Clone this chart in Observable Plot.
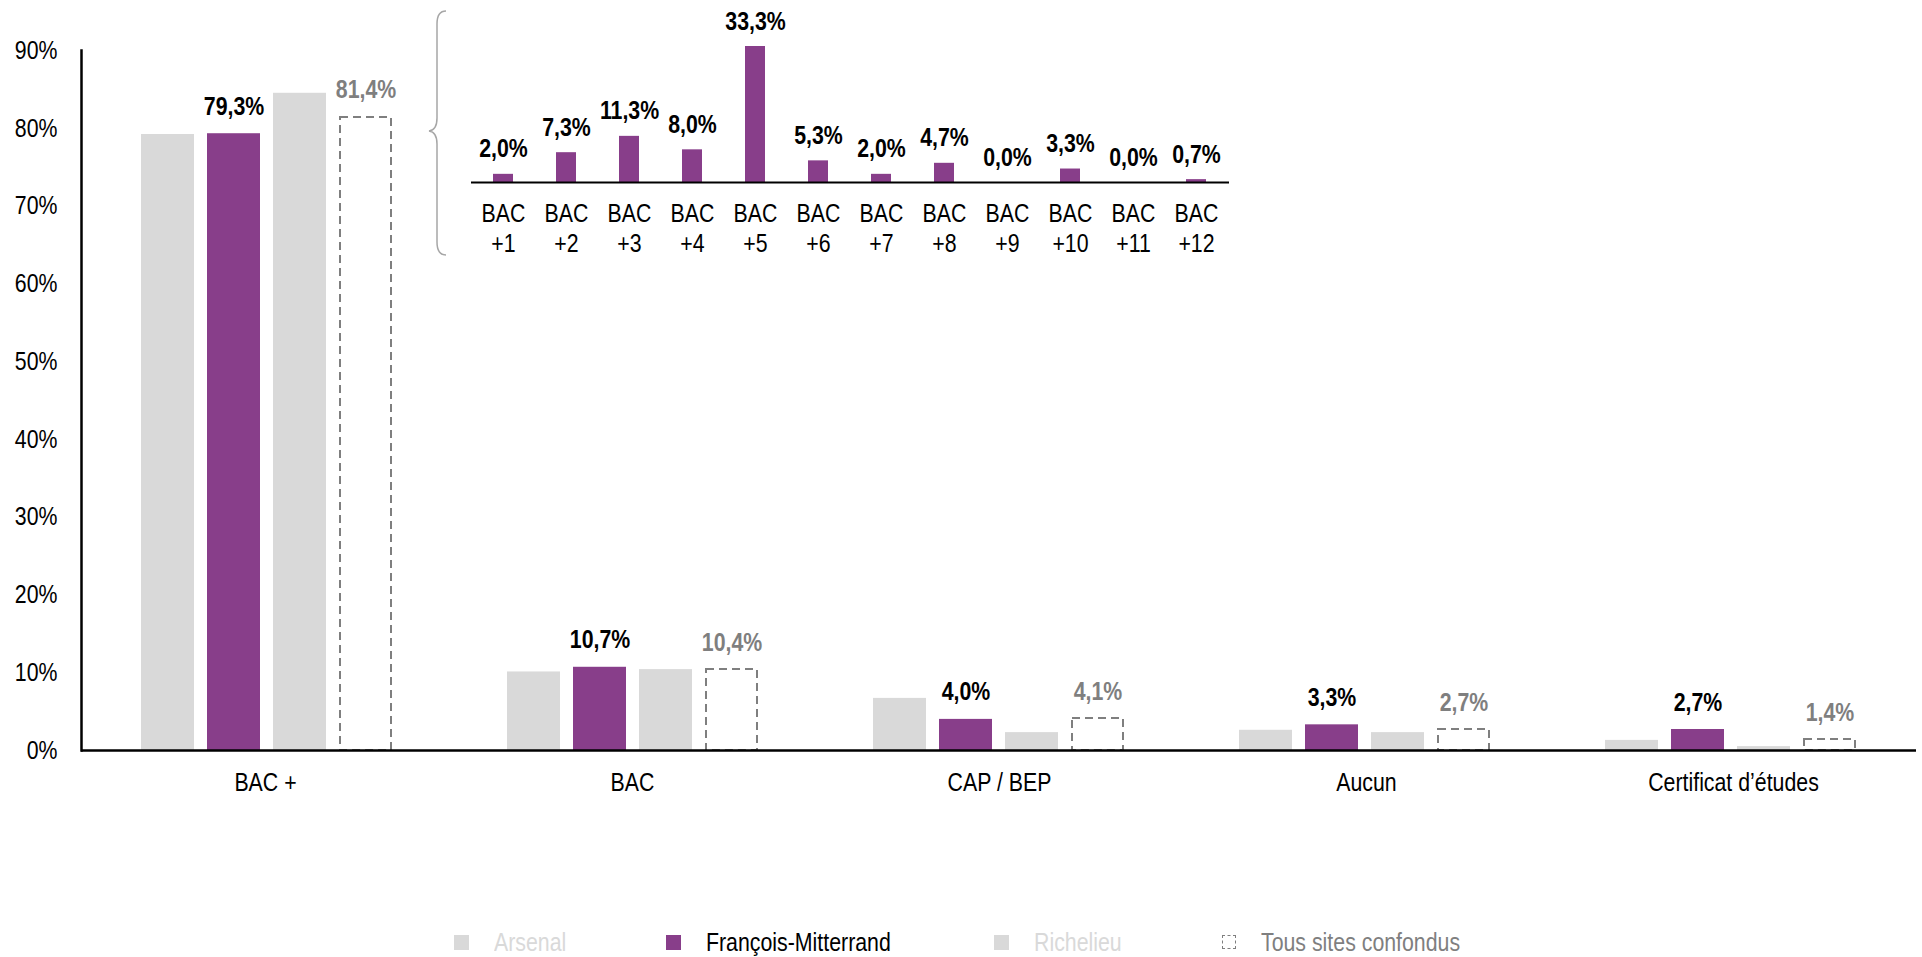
<!DOCTYPE html>
<html><head><meta charset="utf-8">
<script src="https://cdn.jsdelivr.net/npm/d3@7"></script>
<script src="https://cdn.jsdelivr.net/npm/@observablehq/plot@0.6"></script>
<style>
html,body{margin:0;padding:0;background:#fff;}
#wrap{position:relative;width:1922px;height:957px;overflow:hidden;}
#wrap > svg{position:absolute;left:0;top:0;}
#legend{position:absolute;left:0;top:927px;height:30px;width:1922px;}
.item{position:absolute;top:0;height:30px;display:flex;align-items:center;white-space:nowrap;}
.sw{width:15px;height:15px;box-sizing:border-box;flex:none;}
.lt{display:inline-block;margin-left:25px;transform-origin:left center;}
#brace{position:absolute;left:0;top:0;}
</style></head><body><div id="wrap"></div><script>
// ---- data ----
const categories = ["BAC +", "BAC", "CAP / BEP", "Aucun", "Certificat d’études"];
const seriesNames = ["Arsenal", "François-Mitterrand", "Richelieu", "Tous sites confondus"];
const arsenal = [79.2, 10.1, 6.7, 2.6, 1.3];
const francoisMitterrand = [79.3, 10.7, 4.0, 3.3, 2.7];
const richelieu = [84.5, 10.4, 2.3, 2.3, 0.5];
const tousSites = [81.4, 10.4, 4.1, 2.7, 1.4];
const yTicks = [0, 10, 20, 30, 40, 50, 60, 70, 80, 90];
const bacLevels = ["+1", "+2", "+3", "+4", "+5", "+6", "+7", "+8", "+9", "+10", "+11", "+12"];
const bacValues = [2.0, 7.3, 11.3, 8.0, 33.3, 5.3, 2.0, 4.7, 0.0, 3.3, 0.0, 0.7];

// ---- style ----
const PURPLE = "#883E8A", LIGHT = "#D9D9D9", DARKGREY = "#7F7F7F";
const seriesFill = [LIGHT, PURPLE, LIGHT, "#FFFFFF"];
const legendText = [LIGHT, "#000000", LIGHT, DARKGREY];
const legendLeft = [454, 666, 994, 1222];

function hasFont(name){
  const c = document.createElement("canvas").getContext("2d");
  const s = "BAC +1 François-Mitterrand 0123456789%";
  c.font = "40px monospace"; const a = c.measureText(s).width;
  c.font = `40px "${name}", monospace`; const b = c.measureText(s).width;
  return Math.abs(a - b) > 0.5;
}
// Arial-Narrow look: a real narrow face if present, else Liberation Sans squeezed horizontally
let FONT = '"Liberation Sans", Arial, sans-serif', FS = 26, SQUEEZE = 0.82;
for (const f of ["Liberation Sans Narrow", "Arial Narrow"]) {
  if (hasFont(f)) { FONT = `"${f}", sans-serif`; SQUEEZE = 1; break; }
}
function squeeze(svg){
  if (SQUEEZE === 1) return svg;
  svg.querySelectorAll("text").forEach(t => {
    const tr = t.getAttribute("transform");
    if (tr) t.setAttribute("transform", tr + ` scale(${SQUEEZE},1)`);
    else {
      const x = +(t.getAttribute("x") || 0), y = +(t.getAttribute("y") || 0);
      t.removeAttribute("x"); t.removeAttribute("y");
      t.setAttribute("transform", `translate(${x},${y}) scale(${SQUEEZE},1)`);
    }
  });
  return svg;
}
const fmt = v => v.toFixed(1).replace(".", ",") + "%";

const W = 1922, H = 810, ML = 81, MR = 6, MT = 50, MB = 60;
const wrap = document.getElementById("wrap");

const rows = categories.flatMap((c, i) => [
  {cat: c, series: seriesNames[0], value: arsenal[i]},
  {cat: c, series: seriesNames[1], value: francoisMitterrand[i]},
  {cat: c, series: seriesNames[2], value: richelieu[i]},
  {cat: c, series: seriesNames[3], value: tousSites[i]}
]);
const solid = rows.filter(d => d.series !== seriesNames[3]);
const fmRows = rows.filter(d => d.series === seriesNames[1]);
const tousRows = rows.filter(d => d.series === seriesNames[3]);

const common = {width: W, height: H, marginLeft: ML, marginRight: MR, marginTop: MT, marginBottom: MB,
  style: {fontFamily: FONT, fontSize: FS + "px", background: "transparent", overflow: "visible"}};

const bars = Plot.plot({
  ...common,
  fx: {domain: categories, paddingInner: 0.311, paddingOuter: 0.156, axis: null, label: null},
  x: {domain: seriesNames, paddingInner: 0.2, paddingOuter: 0, axis: null},
  y: {domain: [0, 90], axis: null},
  color: {domain: seriesNames, range: seriesFill},
  marks: [
    Plot.barY(solid, {fx: "cat", x: "series", y: "value", fill: "series"}),
    Plot.barY(tousRows, {fx: "cat", x: "series", y: "value", fill: "white", stroke: DARKGREY,
      strokeWidth: 2, strokeDasharray: "8,5", insetLeft: 1, insetRight: 1}),
    Plot.text(fmRows, {fx: "cat", x: "series", y: "value", text: d => fmt(d.value),
      lineAnchor: "bottom", dy: -19, fontWeight: "bold", fill: "#000"}),
    Plot.text(tousRows, {fx: "cat", x: "series", y: "value", text: d => fmt(d.value),
      lineAnchor: "bottom", dy: -19, fontWeight: "bold", fill: DARKGREY})
  ]
});
wrap.appendChild(squeeze(bars));

const axes = Plot.plot({
  ...common,
  x: {domain: categories, paddingInner: 0.311, paddingOuter: 0.156, label: null},
  y: {domain: [0, 90], label: null},
  marks: [
    Plot.axisY(yTicks, {tickSize: 0, tickPadding: 24, tickFormat: d => d + "%", fill: "#000", label: null}),
    Plot.axisX({tickSize: 0, tickPadding: 22, fill: "#000", label: null}),
    Plot.ruleY([0], {stroke: "#000", strokeWidth: 2.5}),
    Plot.frame({anchor: "left", stroke: "#000", strokeWidth: 2.5})
  ]
});
wrap.appendChild(squeeze(axes));

// inset
const insetData = bacLevels.map((l, i) => ({level: l, value: bacValues[i]}));
const inset = Plot.plot({
  width: W, height: 270, marginLeft: 471, marginRight: W - 1229, marginTop: 46, marginBottom: 88,
  style: {fontFamily: FONT, fontSize: FS + "px", background: "transparent", overflow: "visible"},
  x: {domain: bacLevels, paddingInner: 0.68, paddingOuter: 0.34, label: null},
  y: {domain: [0, 33.3], axis: null},
  marks: [
    Plot.barY(insetData, {x: "level", y: "value", fill: PURPLE}),
    Plot.text(insetData, {x: "level", y: "value", text: d => fmt(d.value), lineAnchor: "bottom",
      dy: -17, fontWeight: "bold", fill: "#000"}),
    Plot.ruleY([0], {stroke: "#000", strokeWidth: 2}),
    Plot.axisX({tickSize: 0, tickPadding: 18, tickFormat: d => "BAC\n" + d, lineHeight: 1.15, fill: "#000", label: null})
  ]
});
wrap.appendChild(squeeze(inset));

// brace (decoration)
const ns = "http://www.w3.org/2000/svg";
const brace = document.createElementNS(ns, "svg");
brace.setAttribute("id", "brace"); brace.setAttribute("width", 500); brace.setAttribute("height", 270);
const p = document.createElementNS(ns, "path");
p.setAttribute("d", "M446 11 Q437 11 437 24 L437 118 Q437 130 429 131 Q437 132 437 144 L437 242 Q437 255 446 255");
p.setAttribute("fill", "none"); p.setAttribute("stroke", "#A6A6A6"); p.setAttribute("stroke-width", "1.5");
brace.appendChild(p);
wrap.appendChild(brace);

// legend
const leg = document.createElement("div");
leg.id = "legend";
leg.style.fontFamily = FONT; leg.style.fontSize = FS + "px";
seriesNames.forEach((n, i) => {
  const it = document.createElement("div"); it.className = "item"; it.style.left = legendLeft[i] + "px";
  const sw = document.createElement("div"); sw.className = "sw";
  if (i === 3) { sw.style.border = "1px dashed " + DARKGREY; sw.style.width = "14px"; sw.style.height = "14px"; }
  else sw.style.background = seriesFill[i];
  const t = document.createElement("span"); t.className = "lt"; t.textContent = n; t.style.color = legendText[i];
  if (SQUEEZE !== 1) t.style.transform = `scaleX(${SQUEEZE})`;
  it.appendChild(sw); it.appendChild(t); leg.appendChild(it);
});
wrap.appendChild(leg);
</script></body></html>
